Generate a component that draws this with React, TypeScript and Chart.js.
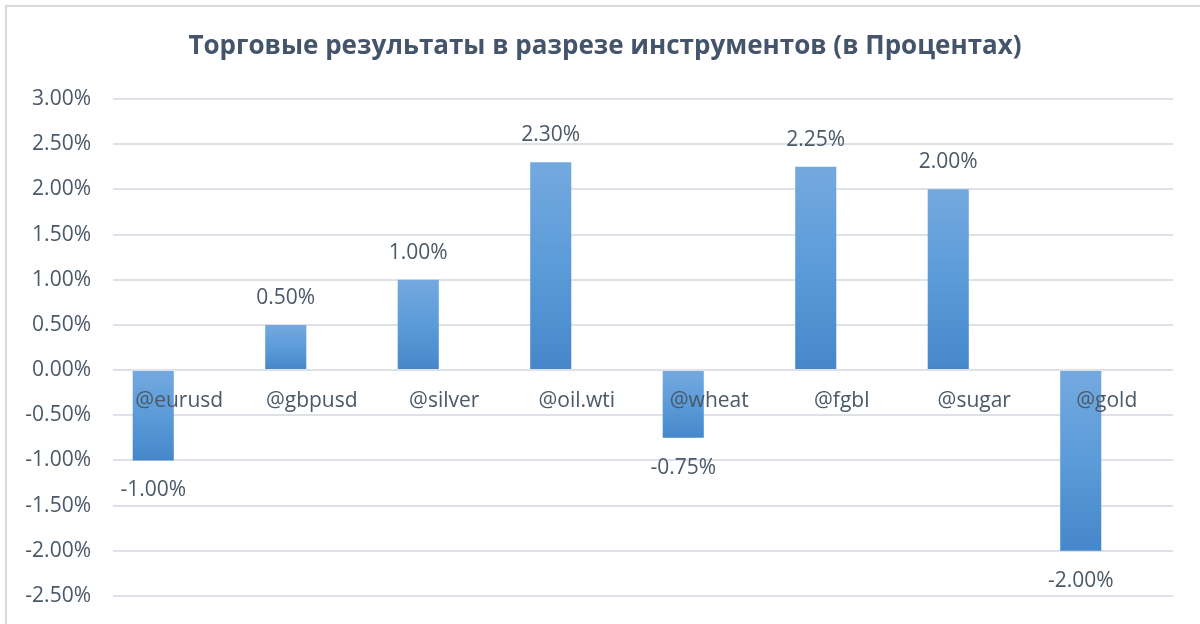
import React, { useEffect, useRef } from "react";
import { Chart, registerables } from "chart.js";

Chart.register(...registerables);

const categories = ["@eurusd", "@gbpusd", "@silver", "@oil.wti", "@wheat", "@fgbl", "@sugar", "@gold"];
const results = [-1.0, 0.5, 1.0, 2.3, -0.75, 2.25, 2.0, -2.0];
const emptySeries = [null, null, null, null, null, null, null, null];
const titleText = "Торговые результаты в разрезе инструментов (в Процентах)";

const FONT = "'Open Sans', 'Noto Sans', sans-serif";
const TEXT = "#44546A";
const TICK = "#4A5868";

export default function App() {
  const ref = useRef<HTMLCanvasElement | null>(null);

  useEffect(() => {
    if (!ref.current) return;

    const labelsPlugin = {
      id: "valueLabels",
      afterDatasetsDraw(chart: any) {
        const ctx = chart.ctx;
        const meta = chart.getDatasetMeta(0);
        const xs = chart.scales.x;
        const ys = chart.scales.y;
        const zero = ys.getPixelForValue(0);
        ctx.save();
        ctx.font = `21px ${FONT}`;
        ctx.fillStyle = TICK;
        ctx.textAlign = "center";
        ctx.textBaseline = "middle";
        categories.forEach((c, i) => {
          ctx.fillText(c, xs.getPixelForValue(i), zero + 31);
        });
        meta.data.forEach((bar: any, i: number) => {
          const v = results[i];
          const txt = v.toFixed(2) + "%";
          if (v >= 0) {
            ctx.fillText(txt, bar.x, bar.y - 27);
          } else {
            ctx.fillText(txt, bar.x, bar.y + 30);
          }
        });
        ctx.restore();
      },
    };

    const titlePlugin = {
      id: "customTitle",
      afterDraw(chart: any) {
        const ctx = chart.ctx;
        ctx.save();
        ctx.font = `bold 26px ${FONT}`;
        ctx.fillStyle = TEXT;
        ctx.textAlign = "center";
        ctx.textBaseline = "middle";
        ctx.fillText(titleText, 605, 47);
        ctx.restore();
      },
    };

    const chart = new Chart(ref.current, {
      type: "bar",
      data: {
        labels: categories,
        datasets: [
          {
            label: "Результат",
            data: results,
            backgroundColor: (c: any) => {
              const chartRef = c.chart;
              const y = chartRef.scales && chartRef.scales.y;
              const raw = c.raw;
              if (!y || raw == null) return "#5B9BD5";
              const top = y.getPixelForValue(Math.max(raw, 0));
              const bottom = y.getPixelForValue(Math.min(raw, 0));
              if (!isFinite(top) || !isFinite(bottom) || top === bottom) return "#5B9BD5";
              const g = chartRef.ctx.createLinearGradient(0, top, 0, bottom);
              g.addColorStop(0, "#74A9DF");
              g.addColorStop(0.5, "#5B9BD9");
              g.addColorStop(1, "#4587CA");
              return g;
            },
            borderWidth: 0,
            categoryPercentage: 0.785,
            barPercentage: 0.79,
          },
          {
            label: "",
            data: emptySeries,
            categoryPercentage: 0.785,
            barPercentage: 0.79,
          },
        ],
      },
      options: {
        animation: false,
        responsive: false,
        layout: { padding: { top: 99, right: 27, bottom: 28, left: 0 } },
        plugins: {
          legend: { display: false },
          title: { display: false },
          tooltip: { enabled: false },
        },
        scales: {
          x: {
            display: false,
            grid: { display: false },
          },
          y: {
            min: -2.5,
            max: 3.0,
            afterFit: (s: any) => {
              s.width = 113;
              s.paddingTop = 0;
              s.paddingBottom = 0;
            },
            grid: { color: "#DEE2E8", lineWidth: 2, drawTicks: false },
            border: { display: false },
            ticks: {
              stepSize: 0.5,
              color: TICK,
              font: { family: FONT, size: 21 },
              padding: 22,
              callback: (v: any) => Number(v).toFixed(2) + "%",
            },
          },
        },
      },
      plugins: [labelsPlugin, titlePlugin],
    });

    return () => chart.destroy();
  }, []);

  return (
    <div style={{ position: "absolute", left: 0, top: 0, width: 1200, height: 624, background: "#fff", overflow: "hidden" }}>
      <div
        style={{
          position: "absolute",
          left: 5,
          top: 5,
          width: 1300,
          height: 700,
          borderLeft: "2px solid #D9D9D9",
          borderTop: "2px solid #D9D9D9",
          boxSizing: "border-box",
        }}
      />
      <canvas ref={ref} width={1200} height={624} style={{ position: "absolute", left: 0, top: 0 }} />
    </div>
  );
}
